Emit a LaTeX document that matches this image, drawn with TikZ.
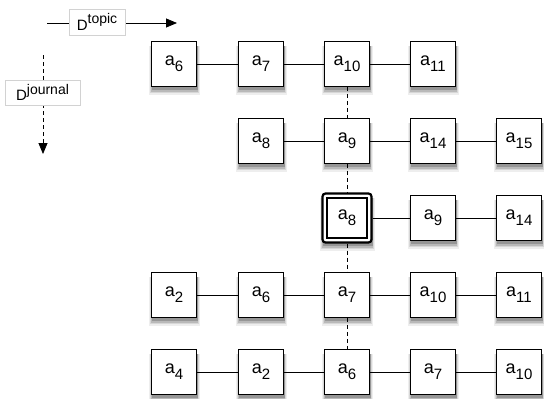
\documentclass[tikz,border=0pt]{standalone}
\usepackage{fontspec}
\setmainfont{Liberation Sans}
\usetikzlibrary{arrows.meta}
\newcommand\asub[1]{\fontsize{18}{18}\selectfont a\raisebox{-6pt}{\fontsize{15}{15}\selectfont #1}}
\newcommand\dsup[1]{\fontsize{15}{15}\selectfont D\raisebox{6.5pt}{\fontsize{14}{14}\selectfont #1}}
\definecolor{shA}{RGB}{238,238,238}
\definecolor{shB}{RGB}{215,215,215}
\definecolor{shC}{RGB}{185,185,185}
\definecolor{shD}{RGB}{150,150,150}
% soft shadow band below and beside a square of half side #3 centred at (#1,#2)
\newcommand\softshade[3]{%
  \path[fill=shA] (#1-#3-2.5,#2-#3+4) rectangle (#1+#3+3.5,#2+#3+8);
  \path[fill=shB] (#1-#3-1.5,#2-#3+4) rectangle (#1+#3+2.5,#2+#3+6.5);
  \path[fill=shC] (#1-#3-0.5,#2-#3+4) rectangle (#1+#3+1.5,#2+#3+5);
  \path[fill=shD] (#1-#3,#2-#3+4) rectangle (#1+#3+1,#2+#3+3.2);
}
\begin{document}
\begin{tikzpicture}[x=1pt,y=-1pt,
  box/.style={draw, line width=0.9pt, fill=white, minimum size=45pt, inner sep=0pt},
  outerbox/.style={draw, line width=2.2pt, rounded corners=3pt, fill=white, minimum size=49pt, inner sep=0pt},
  innerbox/.style={draw, line width=1.2pt, fill=white, minimum size=40pt, inner sep=0pt},
  hlink/.style={line width=0.8pt},
  vlink/.style={line width=1pt, dash pattern=on 4pt off 3pt},
  tag/.style={draw=gray!35, line width=0.6pt, fill=white, inner xsep=3pt, inner ysep=2pt},
  dirarrow/.style={line width=0.8pt, -{Triangle[length=11pt,width=9pt]}}]
\path[fill=white] (0,0) rectangle (544,399);
\useasboundingbox (0,0) rectangle (544,399);

% soft drop shadows (drawn first, under the boxes)
\softshade{174}{64}{22.5}
\softshade{261}{64}{22.5}
\softshade{347}{64}{22.5}
\softshade{433}{64}{22.5}
\softshade{261}{141}{22.5}
\softshade{347}{141}{22.5}
\softshade{433}{141}{22.5}
\softshade{519}{141}{22.5}
\softshade{347}{218}{24.5}
\softshade{433}{218}{22.5}
\softshade{519}{218}{22.5}
\softshade{174}{295}{22.5}
\softshade{261}{295}{22.5}
\softshade{347}{295}{22.5}
\softshade{433}{295}{22.5}
\softshade{519}{295}{22.5}
\softshade{174}{372}{22.5}
\softshade{261}{372}{22.5}
\softshade{347}{372}{22.5}
\softshade{433}{372}{22.5}
\softshade{519}{372}{22.5}

% direction arrows
\coordinate (ts) at (47,23);
\coordinate (te) at (177,23);
\draw[dirarrow] (ts) -- (te);
\node[tag, minimum width=56pt, minimum height=26pt] (tt) at (97,22) {\dsup{topic}};
\coordinate (js) at (43,55);
\coordinate (je) at (43,154);
\draw[dirarrow, dash pattern=on 4pt off 3pt] (js) -- (je);
\node[tag, minimum width=75pt, minimum height=25pt] (jt) at (42.5,92.5) {\dsup{journal}};

% row 1
\node[box] (r1c1) at (174,64) {\asub{6}};
\node[box] (r1c2) at (261,64) {\asub{7}};
\node[box] (r1c3) at (347,64) {\asub{10}};
\node[box] (r1c4) at (433,64) {\asub{11}};
% row 2
\node[box] (r2c2) at (261,141) {\asub{8}};
\node[box] (r2c3) at (347,141) {\asub{9}};
\node[box] (r2c4) at (433,141) {\asub{14}};
\node[box] (r2c5) at (519,141) {\asub{15}};
% row 3
\node[outerbox] (r3c3o) at (347,218) {};
\node[innerbox] (r3c3) at (347,218) {\asub{8}};
\node[box] (r3c4) at (433,218) {\asub{9}};
\node[box] (r3c5) at (519,218) {\asub{14}};
% row 4
\node[box] (r4c1) at (174,295) {\asub{2}};
\node[box] (r4c2) at (261,295) {\asub{6}};
\node[box] (r4c3) at (347,295) {\asub{7}};
\node[box] (r4c4) at (433,295) {\asub{10}};
\node[box] (r4c5) at (519,295) {\asub{11}};
% row 5
\node[box] (r5c1) at (174,372) {\asub{4}};
\node[box] (r5c2) at (261,372) {\asub{2}};
\node[box] (r5c3) at (347,372) {\asub{6}};
\node[box] (r5c4) at (433,372) {\asub{7}};
\node[box] (r5c5) at (519,372) {\asub{10}};

% horizontal links
\draw[hlink] (r1c1) -- (r1c2);
\draw[hlink] (r1c2) -- (r1c3);
\draw[hlink] (r1c3) -- (r1c4);
\draw[hlink] (r2c2) -- (r2c3);
\draw[hlink] (r2c3) -- (r2c4);
\draw[hlink] (r2c4) -- (r2c5);
\draw[hlink] (r3c3o) -- (r3c4);
\draw[hlink] (r3c4) -- (r3c5);
\draw[hlink] (r4c1) -- (r4c2);
\draw[hlink] (r4c2) -- (r4c3);
\draw[hlink] (r4c3) -- (r4c4);
\draw[hlink] (r4c4) -- (r4c5);
\draw[hlink] (r5c1) -- (r5c2);
\draw[hlink] (r5c2) -- (r5c3);
\draw[hlink] (r5c3) -- (r5c4);
\draw[hlink] (r5c4) -- (r5c5);

% vertical dashed links
\draw[vlink] (r1c3) -- (r2c3);
\draw[vlink] (r2c3) -- (r3c3o);
\draw[vlink] (r3c3o) -- (r4c3);
\draw[vlink] (r4c3) -- (r5c3);
\end{tikzpicture}
\end{document}
